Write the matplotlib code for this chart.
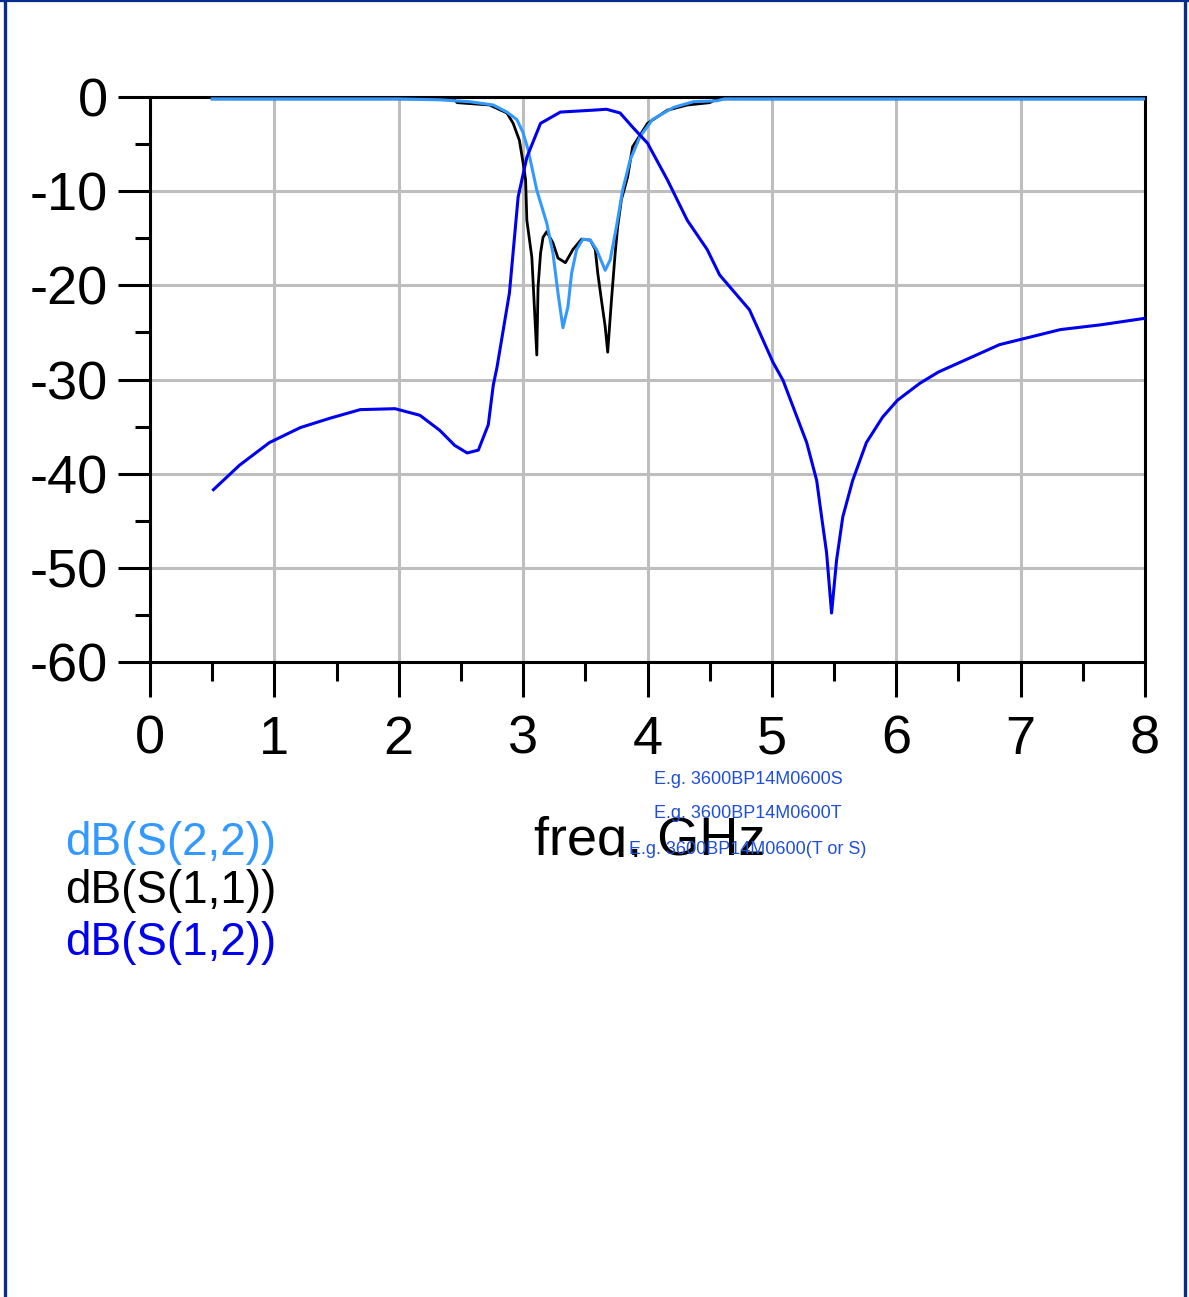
import matplotlib
matplotlib.use("Agg")
import matplotlib.pyplot as plt
from matplotlib.lines import Line2D
from matplotlib.transforms import Bbox, TransformedBbox

plt.rcParams['font.family'] = ['Liberation Sans', 'DejaVu Sans']

# ---------------- data ----------------
s22_freq = [0.5, 2.0, 2.33, 2.57, 2.76, 2.87, 2.95, 3.00, 3.04, 3.11, 3.19, 3.24, 3.28, 3.32,
            3.36, 3.39, 3.43, 3.48, 3.54, 3.59, 3.66, 3.70, 3.75, 3.80, 3.86, 3.94, 4.04,
            4.21, 4.37, 4.56, 4.62, 8.0]
s22_db = [-0.2, -0.2, -0.3, -0.5, -0.85, -1.6, -2.4, -3.8, -5.6, -9.9, -13.4, -16.6, -20.8, -24.5,
          -22.3, -18.7, -16.2, -15.1, -15.2, -16.2, -18.4, -17.3, -13.8, -9.9, -6.7, -4.2, -2.4,
          -1.1, -0.5, -0.4, -0.2, -0.2]

s11_freq = [0.5, 2.44, 2.47, 2.73, 2.87, 2.92, 2.97, 3.00, 3.02, 3.03, 3.07, 3.11, 3.12, 3.14,
            3.16, 3.19, 3.24, 3.28, 3.34, 3.40, 3.47, 3.54, 3.58, 3.60, 3.63, 3.66, 3.68,
            3.71, 3.74, 3.76, 3.79, 3.84, 3.88, 4.00, 4.16, 4.32, 4.50, 4.56, 8.0]
s11_db = [-0.2, -0.2, -0.6, -0.85, -1.7, -2.8, -4.6, -7.0, -8.8, -13.1, -17.0, -27.4, -20.2, -16.6,
          -14.9, -14.3, -15.5, -17.1, -17.6, -16.2, -15.1, -15.2, -16.2, -18.7, -21.6, -24.4, -27.1,
          -21.6, -16.6, -13.8, -10.9, -8.5, -5.3, -2.8, -1.4, -0.85, -0.6, -0.2, -0.2]

s12_freq = [0.51, 0.72, 0.96, 1.21, 1.45, 1.69, 1.97, 2.17, 2.33, 2.45, 2.55, 2.64, 2.72, 2.76,
            2.79, 2.89, 2.96, 3.03, 3.14, 3.30, 3.56, 3.67, 3.78, 3.88, 4.00, 4.16, 4.32, 4.48,
            4.58, 4.82, 5.01, 5.09, 5.28, 5.36, 5.40, 5.44, 5.48, 5.52, 5.57, 5.65, 5.76, 5.89,
            6.01, 6.19, 6.34, 6.83, 7.32, 7.64, 8.0]
s12_db = [-41.7, -39.1, -36.7, -35.1, -34.1, -33.2, -33.1, -33.8, -35.4, -37.0, -37.8, -37.5, -34.8, -30.6,
          -28.7, -20.8, -10.6, -6.4, -2.8, -1.6, -1.4, -1.3, -1.7, -3.2, -4.9, -8.8, -13.1, -16.2,
          -18.9, -22.6, -28.2, -30.1, -36.7, -40.7, -44.6, -48.4, -54.8, -49.2, -44.6, -40.7, -36.7, -34.0,
          -32.2, -30.4, -29.2, -26.3, -24.7, -24.2, -23.5]

x_ticks = [0, 1, 2, 3, 4, 5, 6, 7, 8]
y_ticks = [0, -10, -20, -30, -40, -50, -60]
legend_labels = ['dB(S(2,2))', 'dB(S(1,1))', 'dB(S(1,2))']
notes = ['E.g. 3600BP14M0600S', 'E.g. 3600BP14M0600T', 'E.g. 3600BP14M0600(T or S)']

# ---------------- styles ----------------
C22 = '#3399ff'
C11 = '#000000'
C12 = '#0000ee'
NOTE = '#1f4fd8'
FRAME = '#062d8c'

W, H = 1189, 1297
fig = plt.figure(figsize=(W / 100, H / 100), dpi=100)
ax = fig.add_axes([150 / W, 1 - 662 / H, (1145 - 150) / W, (662 - 97) / H])

ax.plot(s11_freq, s11_db, color=C11, lw=2.0, zorder=3)
ax.plot(s22_freq, s22_db, color=C22, lw=2.2, zorder=4)
ax.plot(s12_freq, s12_db, color=C12, lw=2.2, zorder=5)

ax.set_xlim(0, 8)
ax.set_ylim(-60, 0)
ax.set_xticks(x_ticks)
ax.set_xticklabels([str(v) for v in x_ticks])
ax.set_yticks(y_ticks)
ax.set_yticklabels([str(v) for v in y_ticks])
ax.set_xticks([v + 0.5 for v in x_ticks[:-1]], minor=True)
ax.set_yticks([v - 5 for v in y_ticks[:-1]], minor=True)

ax.grid(True, which='major', color='#bebebe', lw=2.2, zorder=0)
ax.set_axisbelow(True)
for s in ax.spines.values():
    s.set_linewidth(2.2)
    s.set_color('black')
ax.tick_params(axis='x', which='major', direction='out', length=25, width=2.2,
               labelsize=39, pad=13)
ax.tick_params(axis='x', which='minor', direction='out', length=14, width=2.2)
ax.tick_params(axis='y', which='major', direction='out', length=23, width=2.2,
               labelsize=39, pad=7)
ax.tick_params(axis='y', which='minor', direction='out', length=11, width=2.2)

# x label (clipped at bottom like the original)
t = fig.text(650 / W, 1 - 855 / H, 'freq, GHz', fontsize=39, ha='center', va='baseline',
             zorder=2)
t.set_clip_on(True)
t.set_clip_box(TransformedBbox(Bbox([[0, 1 - 857 / H], [1, 1]]), fig.transFigure))

# legend texts
for lab, col, yc in zip(legend_labels, [C22, C11, C12], [843, 891, 943]):
    fig.text(65 / W, 1 - yc / H, lab, fontsize=33, color=col, ha='left', va='center')

# notes
for txt, yc in zip(notes, [779, 813, 849]):
    fig.text(748 / W, 1 - yc / H, txt, fontsize=13, color=NOTE, ha='center', va='center',
             zorder=5)

# frame
fig.add_artist(Line2D([4.5 / W, 4.5 / W], [0, 1], color=FRAME, lw=2.4, transform=fig.transFigure))
fig.add_artist(Line2D([1184.5 / W, 1184.5 / W], [0, 1], color=FRAME, lw=2.4, transform=fig.transFigure))
fig.add_artist(Line2D([0, 1], [1 - 0.5 / H, 1 - 0.5 / H], color=FRAME, lw=1.6, transform=fig.transFigure))

fig.savefig('out.png', dpi=100, facecolor='white')
